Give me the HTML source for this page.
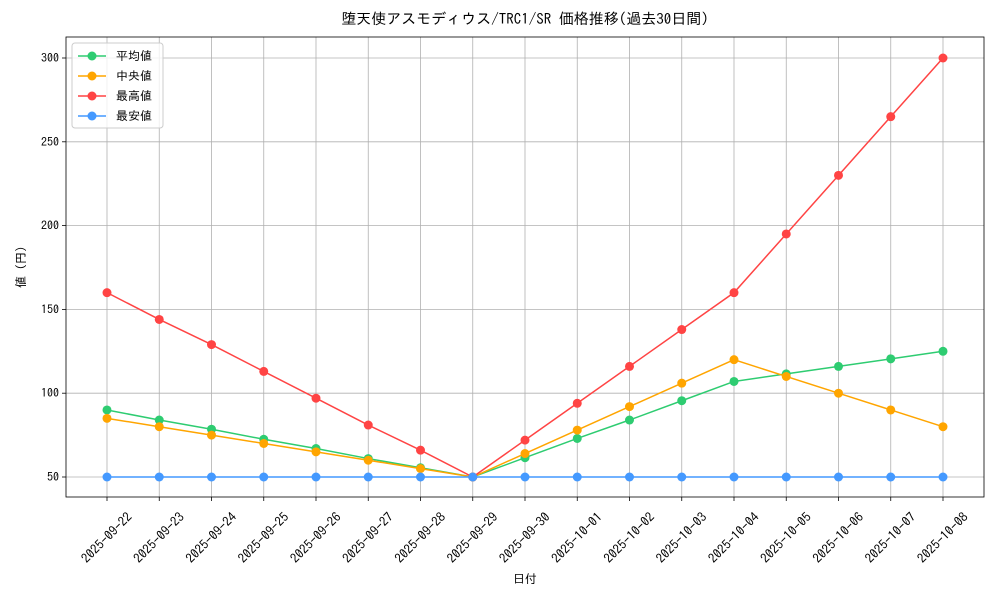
<!DOCTYPE html>
<html><head><meta charset="utf-8"><style>
body{margin:0;background:#fff;}
svg text{font-family:"IPAGothic","Noto Sans CJK JP",monospace;fill:#000;}
</style></head><body>
<svg id="chart" width="1000" height="600" xmlns="http://www.w3.org/2000/svg"></svg>
<script>
const categories=["2025-09-22","2025-09-23","2025-09-24","2025-09-25","2025-09-26","2025-09-27","2025-09-28","2025-09-29","2025-09-30","2025-10-01","2025-10-02","2025-10-03","2025-10-04","2025-10-05","2025-10-06","2025-10-07","2025-10-08"];
const avgValues=[90,84,78.5,72.5,67,61,55.5,50,61.5,73,84,95.5,107,111.5,116,120.5,125];
const medianValues=[85,80,75,70,65,60,55,50,64,78,92,106,120,110,100,90,80];
const maxValues=[160,144,129,113,97,81,66,50,72,94,116,138,160,195,230,265,300];
const minValues=[50,50,50,50,50,50,50,50,50,50,50,50,50,50,50,50,50];
const yTicks=[50,100,150,200,250,300];
const seriesNames=["平均値","中央値","最高値","最安値"];
const seriesColors=["#2ecc71","#ffa500","#ff4444","#4499ff"];

const NS="http://www.w3.org/2000/svg";
const svg=document.getElementById('chart');
const L=66,R=984,T=37,B=497;
const x=i=>107+i*(943-107)/(categories.length-1);
const y=v=>477-(v-50)*(477-58)/250;
function mk(tag,attrs,parent){const e=document.createElementNS(NS,tag);for(const k in attrs)e.setAttribute(k,attrs[k]);(parent||svg).appendChild(e);return e;}

categories.forEach((c,i)=>{
  const g=mk('line',{x1:x(i),x2:x(i),y1:T,y2:B,stroke:'#b0b0b0','stroke-width':0.8});
  
  
  mk('line',{x1:x(i),x2:x(i),y1:B,y2:B+4,stroke:'#000','stroke-width':0.8});
  const t=mk('text',{x:0,y:0,'font-size':13,'text-anchor':'middle',transform:`translate(${x(i)},${B+41}) rotate(-45) translate(0,4)`});
  t.textContent=c;
  
  
});
yTicks.forEach(v=>{
  const g=mk('line',{x1:L,x2:R,y1:y(v),y2:y(v),stroke:'#b0b0b0','stroke-width':0.8});
  
  
  mk('line',{x1:L-4,x2:L,y1:y(v),y2:y(v),stroke:'#000','stroke-width':0.8});
  const t=mk('text',{x:L-7,y:y(v)+4,'font-size':12,'text-anchor':'end'});
  t.textContent=v;
  
  
});
const frame=mk('rect',{x:L,y:T,width:R-L,height:B-T,fill:'none',stroke:'#000','stroke-width':0.8});



const all=[avgValues,medianValues,maxValues,minValues];
const slugs=['avg','median','max','min'];
all.forEach((vals,si)=>{
  const p=mk('polyline',{points:vals.map((v,i)=>x(i)+','+y(v)).join(' '),fill:'none',stroke:seriesColors[si],'stroke-width':1.5});
  
  
  vals.forEach((v,i)=>{
    const c=mk('circle',{cx:x(i),cy:y(v),r:4.5,fill:seriesColors[si]});
    
    
  });
});

const title=mk('text',{x:525,y:24,'font-size':15,'text-anchor':'middle'});
title.textContent='堕天使アスモディウス/TRC1/SR 価格推移(過去30日間)';


const xl=mk('text',{x:525,y:583,'font-size':12,'text-anchor':'middle'});
xl.textContent='日付';


const yl=mk('text',{x:0,y:0,'font-size':12,'text-anchor':'middle',transform:'translate(25,267) rotate(-90)'});
yl.textContent='値 (円)';



const lg=mk('g',{});


mk('rect',{x:72,y:43,width:91,height:85,rx:3,fill:'#fff','fill-opacity':0.8,stroke:'#ccc'},lg);
seriesNames.forEach((n,i)=>{
  const yy=56+i*20;
  const e=mk('g',{},lg);
  
  
  mk('line',{x1:78,x2:106,y1:yy,y2:yy,stroke:seriesColors[i],'stroke-width':1.5},e);
  mk('circle',{cx:92,cy:yy,r:4.5,fill:seriesColors[i]},e);
  const t=mk('text',{x:116,y:yy+4,'font-size':12},e);
  t.textContent=n;
});
</script>
</body></html>
